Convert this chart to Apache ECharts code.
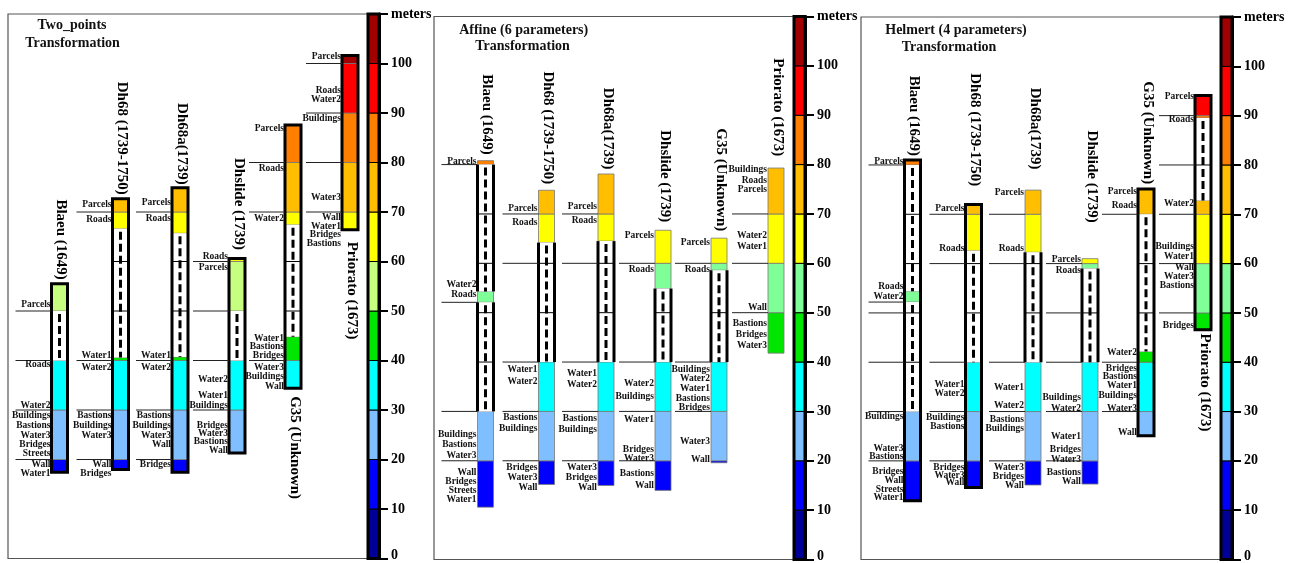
<!DOCTYPE html>
<html>
<head>
<meta charset="utf-8">
<script src="https://cdn.jsdelivr.net/npm/echarts@6/dist/echarts.min.js"></script>
<style>
html, body { margin: 0; padding: 0; background: #fff; }
#chart { width: 1298px; height: 563px; }
</style>
</head>
<body>
<div id="chart"></div>
<script>
// ---------- data (all values in metres) ----------
const mapNames = ['Blaeu (1649)', 'Dh68 (1739-1750)', 'Dh68a(1739)', 'Dhslide (1739)', 'G35 (Unknown)', 'Priorato (1673)']
const panelTitles = [
  ['Two_points', 'Transformation'],
  ['Affine (6 parameters)', 'Transformation'],
  ['Helmert (4 parameters)', 'Transformation']
]
const scaleTicks = [0, 10, 20, 30, 40, 50, 60, 70, 80, 90, 100, 110]
const scaleUnit = 'meters'

// Two points transformation
const twoPointsRange = [[17.4, 55.5], [18.0, 72.7], [17.4, 74.9], [21.3, 60.6], [34.4, 87.6], [66.4, 101.6]]
const twoPointsGaps = [[[40, 50]], [[40.6, 66.6]], [[40.7, 65.7]], [[40, 50]], [[44.8, 67.4]], []]
const twoPointsRules = [[20, 30, 40, 50], [20, 30, 40, 70], [20, 30, 40, 70], [30, 40, 50, 60], [40, 70, 80], [70, 80, 90, 100]]
const twoPointsLabels = [
  [['Parcels', 51.4], ['Roads', 39.2], ['Water2', 31.0], ['Buildings', 28.9], ['Bastions', 26.8], ['Water3', 24.9], ['Bridges', 23.1], ['Streets', 21.2], ['Wall', 19.0], ['Water1', 17.2]],
  [['Parcels', 71.6], ['Roads', 68.5], ['Water1', 40.9], ['Water2', 38.5], ['Bastions', 28.9], ['Buildings', 26.8], ['Water3', 24.8], ['Wall', 19.0], ['Bridges', 17.2]],
  [['Parcels', 72.0], ['Roads', 68.6], ['Water1', 40.9], ['Water2', 38.5], ['Bastions', 28.9], ['Buildings', 26.8], ['Water3', 24.8], ['Wall', 23.0], ['Bridges', 19.0]],
  [['Roads', 61.1], ['Parcels', 58.8], ['Water2', 36.1], ['Water1', 33.0], ['Buildings', 31.0], ['Bridges', 26.8], ['Water3', 25.3], ['Bastions', 23.6], ['Wall', 21.9]],
  [['Parcels', 86.8], ['Roads', 78.7], ['Water2', 68.7], ['Water1', 44.5], ['Bastions', 42.8], ['Bridges', 40.9], ['Water3', 38.5], ['Buildings', 36.7], ['Wall', 34.8]],
  [['Parcels', 101.4], ['Roads', 94.6], ['Water2', 92.8], ['Buildings', 88.8], ['Water3', 72.9], ['Wall', 68.9], ['Water1', 67.0], ['Bridges', 65.4], ['Bastions', 63.7]]
]

// Affine (6 parameters) transformation
const affineRange = [[10.6, 80.8], [15.2, 74.8], [15.0, 78.1], [14.0, 66.7], [19.6, 65.1], [41.8, 79.3]]
const affineGaps = [[[54.3, 80], [30, 52.1]], [[40, 64.2]], [[40, 64.5]], [[40, 54.9]], [[40, 58.6]], []]
const affineRules = [[20, 30, 52.1, 80], [20, 30, 40, 60, 70], [20, 30, 40, 60, 70], [20, 30, 40, 60], [30, 40, 60], [50, 60, 70]]
const affineLabels = [
  [['Parcels', 80.7], ['Water2', 55.6], ['Roads', 53.6], ['Buildings', 25.3], ['Bastions', 23.2], ['Water3', 21.1], ['Wall', 17.6], ['Bridges', 15.7], ['Streets', 13.9], ['Water1', 12.1]],
  [['Parcels', 71.1], ['Roads', 68.2], ['Water1', 38.4], ['Water2', 36.0], ['Bastions', 28.8], ['Buildings', 26.5], ['Bridges', 18.6], ['Water3', 16.6], ['Wall', 14.5]],
  [['Parcels', 71.6], ['Roads', 68.7], ['Water1', 37.7], ['Water2', 35.4], ['Bastions', 28.6], ['Buildings', 26.3], ['Water3', 18.6], ['Bridges', 16.7], ['Wall', 14.5]],
  [['Parcels', 65.7], ['Roads', 58.8], ['Water2', 35.6], ['Buildings', 33.1], ['Water1', 28.3], ['Bridges', 22.3], ['Water3', 20.4], ['Bastions', 17.5], ['Wall', 15.0]],
  [['Parcels', 64.2], ['Roads', 58.8], ['Buildings', 38.4], ['Water2', 36.6], ['Water1', 34.7], ['Bastions', 32.7], ['Bridges', 30.8], ['Water3', 23.8], ['Wall', 20.3]],
  [['Buildings', 79.0], ['Roads', 76.8], ['Parcels', 74.9], ['Water2', 65.7], ['Water1', 63.3], ['Wall', 51.0], ['Bastions', 47.7], ['Bridges', 45.5], ['Water3', 43.3]]
]

// Helmert (4 parameters) transformation
const helmertRange = [[11.9, 81.0], [14.6, 72.0], [15.1, 74.9], [15.3, 61.0], [25.1, 75.1], [46.6, 94.1]]
const helmertGaps = [[[54.4, 80], [30, 52.2]], [[40, 62.6]], [[40, 62.3]], [[40, 59.0]], [[42.2, 70]], [[72.8, 89.5]]]
const helmertRules = [[20, 30, 40, 50, 52.2, 80], [20, 30, 40, 60, 70], [20, 30, 40, 60, 70], [20, 30, 40, 50, 60], [30, 40, 70], [50, 60, 70, 80, 90]]
const helmertLabels = [
  [['Parcels', 80.6], ['Roads', 55.4], ['Water2', 53.4], ['Buildings', 28.9], ['Water3', 22.4], ['Bastions', 20.8], ['Bridges', 17.9], ['Wall', 16.0], ['Streets', 14.2], ['Water1', 12.6]],
  [['Parcels', 71.2], ['Roads', 63.1], ['Water1', 35.5], ['Water2', 33.6], ['Buildings', 28.7], ['Bastions', 27.0], ['Bridges', 18.7], ['Water3', 17.1], ['Wall', 15.6]],
  [['Parcels', 74.5], ['Roads', 63.1], ['Water1', 34.8], ['Water2', 31.3], ['Bastions', 28.4], ['Buildings', 26.6], ['Water3', 18.6], ['Bridges', 16.8], ['Wall', 15.0]],
  [['Parcels', 60.9], ['Roads', 58.5], ['Buildings', 32.8], ['Water2', 30.7], ['Water1', 24.9], ['Bridges', 22.3], ['Water3', 20.3], ['Bastions', 17.6], ['Wall', 15.9]],
  [['Parcels', 74.7], ['Roads', 71.7], ['Water2', 41.9], ['Bridges', 38.8], ['Bastions', 37.0], ['Water1', 35.2], ['Buildings', 33.3], ['Water3', 30.6], ['Wall', 25.8]],
  [['Parcels', 93.9], ['Roads', 89.2], ['Water2', 72.2], ['Buildings', 63.4], ['Water1', 61.4], ['Wall', 59.2], ['Water3', 57.4], ['Bastions', 55.5], ['Bridges', 47.4]]
]

// ---------- layout / style ----------
const FONT = '"Liberation Serif", "DejaVu Serif", serif'
const COL_X = [51.5, 112.5, 172, 229, 285, 342] // column centres, px from frame left
const COL_W = 16
const CB_X = [360, 371] // colour bar
const RULE_LEN = 36
const BANDS = ['#000099', '#0000ff', '#80bfff', '#00ffff', '#00e600', '#80ff99', '#ffff00', '#ffbf00', '#ff8000', '#ff0000', '#a00000']
const BANDS_P1 = BANDS.slice()
BANDS_P1[5] = '#c6ff80'

const panels = [
  { range: twoPointsRange, gaps: twoPointsGaps, rules: twoPointsRules, labels: twoPointsLabels, colors: BANDS_P1,
    grid: { left: 8, top: 14, width: 371, height: 544.5 },
    thick: [1, 1, 1, 1, 1, 1],
    nameAt: [56.3, 73.5, 75.5, 62.3, 32.8, 64.0], nameBelow: [0, 0, 0, 0, 1, 1],
    title: [[72, 25], [72.5, 43.5]] },
  { range: affineRange, gaps: affineGaps, rules: affineRules, labels: affineLabels, colors: BANDS,
    grid: { left: 434, top: 16.5, width: 371, height: 544 },
    thick: [0, 0, 0, 0, 0, 0],
    nameAt: [82.0, 76.0, 79.0, 68.3, 66.5, 81.7], nameBelow: [0, 0, 0, 0, 0, 0],
    title: [[523.7, 30], [522.5, 46]] },
  { range: helmertRange, gaps: helmertGaps, rules: helmertRules, labels: helmertLabels, colors: BANDS,
    grid: { left: 861, top: 17, width: 371, height: 544 },
    thick: [1, 1, 0, 0, 1, 1],
    nameAt: [81.8, 75.7, 79.1, 68.3, 76.1, 45.8], nameBelow: [0, 0, 0, 0, 0, 1],
    title: [[956, 30], [949, 47.3]] }
]

function columnRenderer (p) {
  return function (params, api) {
    const i = params.dataIndex
    const lo = p.range[i][0]
    const hi = p.range[i][1]
    const gaps = p.gaps[i]
    const thick = p.thick[i]
    const yOf = v => api.coord([COL_X[i], v])[1]
    const cx = api.coord([COL_X[i], 0])[0]
    const xl = cx - COL_W / 2
    const xr = cx + COL_W / 2
    const inGap = v => gaps.some(g => v > g[0] && v < g[1])
    const kids = []

    // coloured pieces, split at the 10 m bands
    const cuts = [lo, hi]
    for (let d = 10; d < 110; d += 10) if (d > lo && d < hi) cuts.push(d)
    gaps.forEach(g => cuts.push(g[0], g[1]))
    cuts.sort((a, b) => a - b)
    for (let k = 0; k + 1 < cuts.length; k++) {
      const a = cuts[k]
      const b = cuts[k + 1]
      if (b - a < 1e-6) continue
      const mid = (a + b) / 2
      if (inGap(mid)) continue
      kids.push({ type: 'rect', shape: { x: xl, y: yOf(b), width: COL_W, height: yOf(a) - yOf(b) },
        style: { fill: p.colors[Math.floor(mid / 10)], stroke: '#777', lineWidth: 0.8 } })
    }

    // empty stretches: white with a dashed centre line
    gaps.forEach(g => {
      const yt = yOf(g[1])
      const yb = yOf(g[0])
      kids.push({ type: 'rect', shape: { x: xl, y: yt, width: COL_W, height: yb - yt }, style: { fill: '#fff', stroke: 'none' } })
      kids.push({ type: 'line', shape: { x1: cx, y1: yt + 3, x2: cx, y2: yb }, style: { stroke: '#000', lineWidth: 3, lineDash: [8, 4], fill: 'none' } })
      for (let d = 10; d < 110; d += 10) {
        if (d > g[0] && d < g[1]) {
          kids.push({ type: 'line', shape: { x1: xl, y1: yOf(d), x2: xr, y2: yOf(d) }, style: { stroke: '#000', lineWidth: 1, fill: 'none' } })
        }
      }
      if (!thick) {
        kids.push({ type: 'line', shape: { x1: xl, y1: yt, x2: xl, y2: yb }, style: { stroke: '#000', lineWidth: 3, fill: 'none' } })
        kids.push({ type: 'line', shape: { x1: xr, y1: yt, x2: xr, y2: yb }, style: { stroke: '#000', lineWidth: 3, fill: 'none' } })
      }
    })

    if (thick) {
      kids.push({ type: 'rect', shape: { x: xl, y: yOf(hi), width: COL_W, height: yOf(lo) - yOf(hi) },
        style: { fill: 'none', stroke: '#000', lineWidth: 3 } })
    }

    // separator rules on the left
    p.rules[i].forEach(v => {
      kids.push({ type: 'line', shape: { x1: xl - RULE_LEN, y1: yOf(v), x2: xl, y2: yOf(v) },
        style: { stroke: '#222', lineWidth: 1, fill: 'none' } })
    })

    // layer labels
    p.labels[i].forEach(l => {
      kids.push({ type: 'text', x: xl - 1, y: yOf(l[1]),
        style: { text: l[0], align: 'right', verticalAlign: 'middle', fill: '#111',
          font: 'bold 9.5px ' + FONT } })
    })

    // map name (vertical)
    const below = p.nameBelow[i]
    kids.push({ type: 'text', x: cx + 1.5, y: yOf(p.nameAt[i]), rotation: -Math.PI / 2,
      style: { text: mapNames[i], align: below ? 'left' : 'right', verticalAlign: 'middle', fill: '#000',
        font: 'bold 15px ' + FONT } })

    return { type: 'group', children: kids }
  }
}

function colourBarRenderer (p) {
  return function (params, api) {
    const b = params.dataIndex
    const a0 = api.coord([CB_X[0], scaleTicks[b]])
    const a1 = api.coord([CB_X[1], scaleTicks[b + 1]])
    const kids = [{ type: 'rect', shape: { x: a0[0], y: a1[1], width: a1[0] - a0[0], height: a0[1] - a1[1] },
      style: { fill: p.colors[b], stroke: '#000', lineWidth: 1 } }]
    if (b === scaleTicks.length - 2) {
      const t = api.coord([CB_X[0], scaleTicks[scaleTicks.length - 1]])
      const z = api.coord([CB_X[1], scaleTicks[0]])
      kids.push({ type: 'rect', shape: { x: t[0], y: t[1], width: z[0] - t[0], height: z[1] - t[1] },
        style: { fill: 'none', stroke: '#000', lineWidth: 3 } })
    }
    return { type: 'group', children: kids }
  }
}

const grid = []
const xAxis = []
const yAxis = []
const series = []
const graphic = []

panels.forEach((p, k) => {
  grid.push(Object.assign({ show: true, borderColor: '#555', borderWidth: 1.2, backgroundColor: 'transparent' }, p.grid))
  xAxis.push({ gridIndex: k, type: 'value', min: 0, max: p.grid.width, show: false })
  yAxis.push({
    gridIndex: k, type: 'value', position: 'right', min: scaleTicks[0], max: scaleTicks[scaleTicks.length - 1], interval: 10,
    axisLine: { show: true, onZero: false, lineStyle: { color: '#000', width: 3 } },
    axisTick: { show: true, length: 9, lineStyle: { color: '#000', width: 2 } },
    splitLine: { show: false },
    axisLabel: {
      margin: 12, color: '#000', fontFamily: FONT, fontWeight: 'bold', fontSize: 14,
      formatter: v => v === scaleTicks[scaleTicks.length - 1] ? scaleUnit : (v === 0 ? '{z|0}' : String(v)),
      rich: { z: { fontFamily: FONT, fontWeight: 'bold', fontSize: 14, color: '#000', padding: [0, 0, 7, 0] } }
    }
  })
  series.push({
    type: 'custom', xAxisIndex: k, yAxisIndex: k, silent: true, clip: false,
    renderItem: colourBarRenderer(p),
    data: scaleTicks.slice(0, -1).map((v, b) => [CB_X[0], v, b])
  })
  series.push({
    type: 'custom', xAxisIndex: k, yAxisIndex: k, silent: true, clip: false,
    renderItem: columnRenderer(p),
    data: mapNames.map((n, i) => [COL_X[i], p.range[i][1]])
  })
  panelTitles[k].forEach((t, j) => {
    graphic.push({ type: 'text', x: p.title[j][0], y: p.title[j][1], silent: true,
      style: { text: t, align: 'center', verticalAlign: 'middle', fill: '#111', font: 'bold 14px ' + FONT } })
  })
})

const chart = echarts.init(document.getElementById('chart'))
chart.setOption({
  animation: false,
  backgroundColor: '#fff',
  grid: grid,
  xAxis: xAxis,
  yAxis: yAxis,
  graphic: graphic,
  series: series
})
</script>
</body>
</html>
